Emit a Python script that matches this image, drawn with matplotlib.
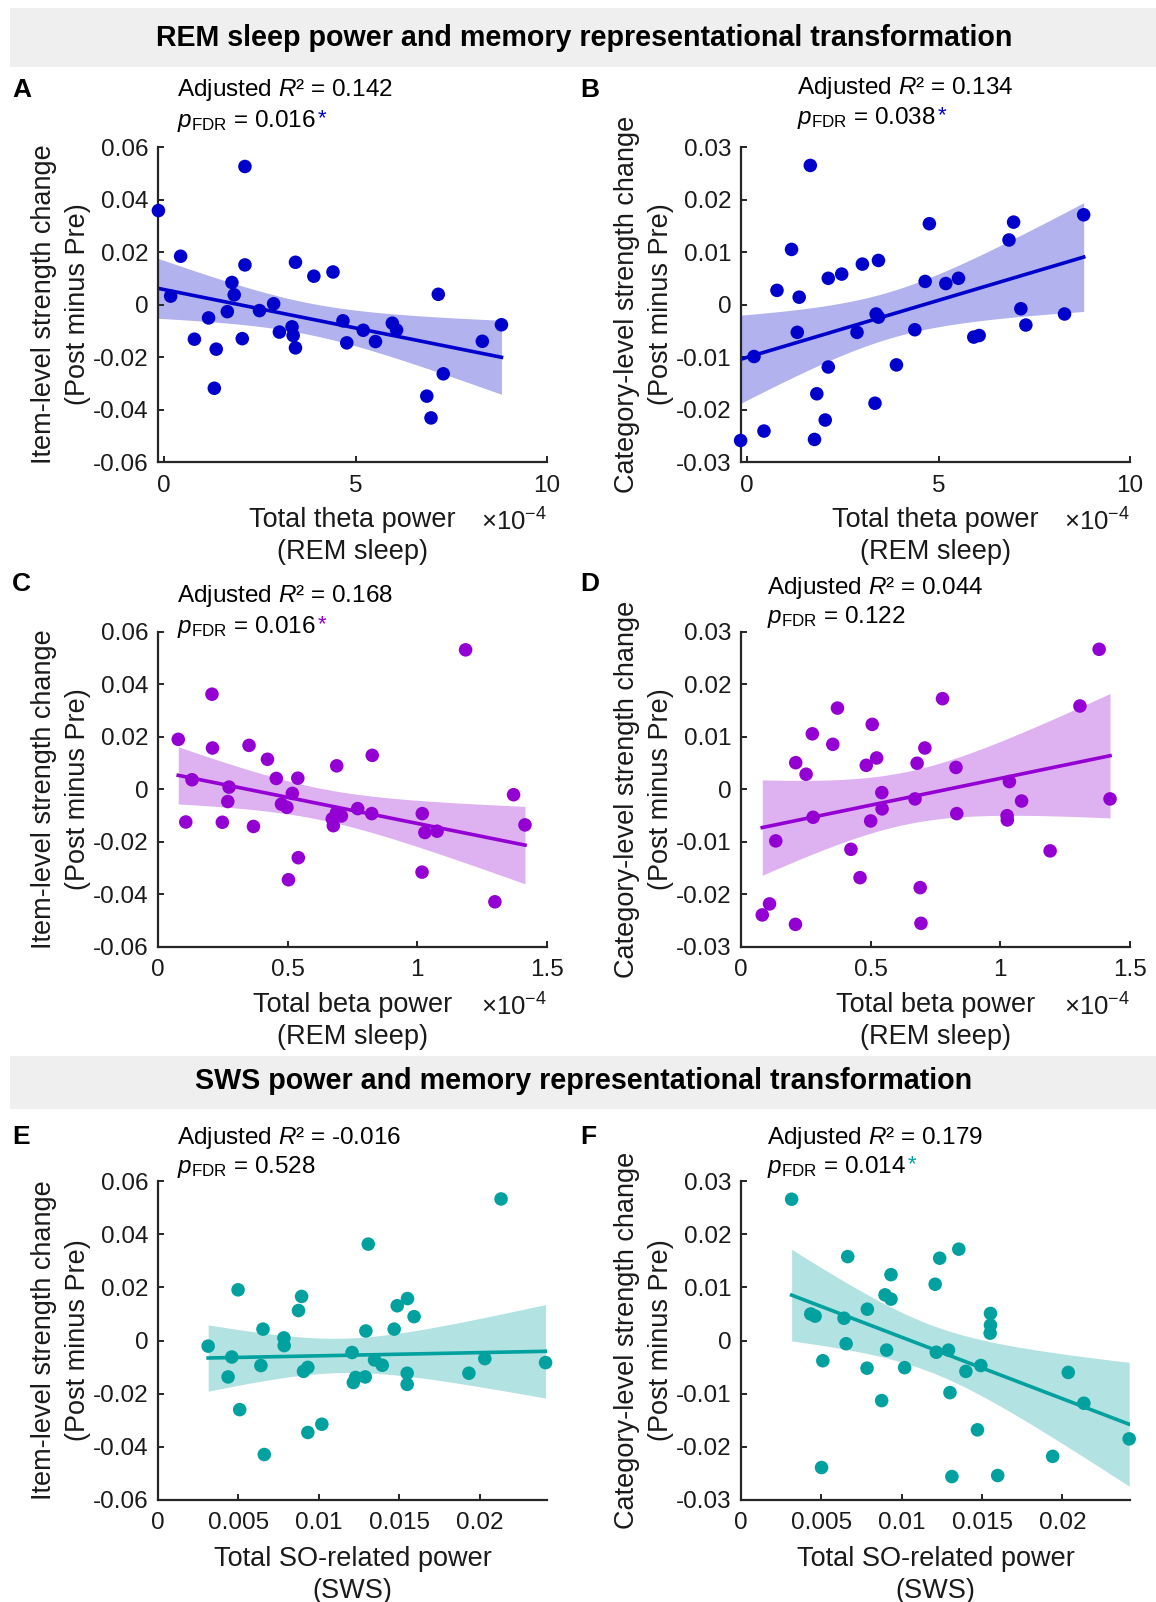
import matplotlib.pyplot as plt
import numpy as np
from matplotlib.patches import Rectangle
from matplotlib.ticker import FuncFormatter

plt.rcParams['font.family'] = ['Liberation Sans', 'DejaVu Sans']
plt.rcParams['mathtext.fontset'] = 'custom'
plt.rcParams['mathtext.rm'] = 'Liberation Sans'
plt.rcParams['mathtext.it'] = 'Liberation Sans:italic'
plt.rcParams['mathtext.bf'] = 'Liberation Sans:bold'

# panel A: theta power (x1e-4) vs item-level change
theta_A = [-0.15, 2.11, 0.17, 0.43, 0.79, 1.16, 1.36, 1.31, 1.65, 1.77, 1.83, 2.04,
           2.11, 2.49, 2.86, 3.01, 3.34, 3.37, 3.43, 3.43, 3.91, 4.41, 4.67, 4.77,
           5.20, 5.52, 5.96, 6.07, 6.86, 6.97, 7.16, 7.29, 8.31, 8.81]
item_A = [0.0358, 0.0526, 0.0032, 0.0184, -0.0132, -0.0051, -0.0170, -0.0319,
          -0.0027, 0.0084, 0.0037, -0.0130, 0.0151, -0.0023, 0.0003, -0.0105,
          -0.0085, -0.0118, -0.0165, 0.0161, 0.0108, 0.0124, -0.0062, -0.0146,
          -0.0098, -0.0141, -0.0071, -0.0097, -0.0349, -0.0432, 0.0039, -0.0264,
          -0.0140, -0.0077]

# panel B: theta power (x1e-4) vs category-level change
theta_B = [-0.17, 0.18, 0.44, 0.78, 1.16, 1.36, 1.31, 1.65, 1.82, 1.76, 2.04, 2.12,
           2.12, 2.47, 2.87, 3.01, 3.34, 3.37, 3.43, 3.43, 3.90, 4.38, 4.65, 4.76,
           5.19, 5.52, 5.92, 6.06, 6.84, 6.96, 7.15, 7.28, 8.29, 8.79]
category_B = [-0.0259, -0.0099, -0.0241, 0.0027, 0.0105, 0.0014, -0.0053, 0.0265,
              -0.0170, -0.0257, -0.0220, -0.0119, 0.0050, 0.0058, -0.0053, 0.0077,
              -0.0188, -0.0018, -0.0024, 0.0084, -0.0115, -0.0048, 0.0044, 0.0154,
              0.0040, 0.0050, -0.0062, -0.0059, 0.0123, 0.0157, -0.0008, -0.0039,
              -0.0018, 0.0171]

# panel C: beta power (x1e-4) vs item-level change
beta_C = [0.078, 0.107, 0.131, 0.208, 0.210, 0.248, 0.274, 0.269, 0.351, 0.368,
          0.422, 0.456, 0.476, 0.497, 0.503, 0.518, 0.539, 0.541, 0.672, 0.676,
          0.688, 0.707, 0.689, 0.770, 0.824, 0.826, 1.019, 1.018, 1.029, 1.076,
          1.186, 1.299, 1.371, 1.415]
item_C = [0.0191, -0.0124, 0.0037, 0.0363, 0.0158, -0.0125, 0.0009, -0.0046,
          0.0168, -0.0141, 0.0115, 0.0042, -0.0056, -0.0068, -0.0344, -0.0015,
          0.0043, -0.0260, -0.0112, -0.0138, -0.0089, -0.0101, 0.0090, -0.0073,
          -0.0092, 0.0130, -0.0092, -0.0315, -0.0164, -0.0159, 0.0532, -0.0428,
          -0.0020, -0.0135]

# panel D: beta power (x1e-4) vs category-level change
beta_D = [0.082, 0.110, 0.134, 0.211, 0.210, 0.251, 0.275, 0.278, 0.354, 0.372,
          0.424, 0.459, 0.483, 0.500, 0.506, 0.523, 0.543, 0.544, 0.671, 0.679,
          0.691, 0.694, 0.709, 0.777, 0.829, 0.832, 1.026, 1.027, 1.035, 1.082,
          1.192, 1.307, 1.381, 1.423]
category_D = [-0.0239, -0.0218, -0.0098, 0.0051, -0.0257, 0.0029, 0.0106, -0.0053,
              0.0086, 0.0155, -0.0114, -0.0168, 0.0046, -0.0060, 0.0124, 0.0060,
              -0.0006, -0.0037, -0.0018, 0.0050, -0.0187, -0.0255, 0.0079, 0.0173,
              0.0042, -0.0046, -0.0050, -0.0058, 0.0015, -0.0022, -0.0117, 0.0159,
              0.0267, -0.0018]

# panel E: SO-related power vs item-level change
so_E = [0.00312, 0.00436, 0.00459, 0.00498, 0.00508, 0.00640, 0.00653, 0.00661,
        0.00783, 0.00785, 0.00874, 0.00893, 0.00905, 0.00932, 0.00932, 0.01019,
        0.01207, 0.01215, 0.01229, 0.01289, 0.01293, 0.01308, 0.01347, 0.01395,
        0.01469, 0.01488, 0.01552, 0.01550, 0.01550, 0.01593, 0.01934, 0.02033,
        0.02134, 0.02411]
item_E = [-0.0021, -0.0137, -0.0062, 0.0191, -0.0260, -0.0094, 0.0043, -0.0429,
          0.0010, -0.0019, 0.0113, 0.0166, -0.0116, -0.0101, -0.0346, -0.0315,
          -0.0045, -0.0158, -0.0139, -0.0137, 0.0036, 0.0363, -0.0073, -0.0093,
          0.0043, 0.0131, 0.0158, -0.0123, -0.0165, 0.0090, -0.0123, -0.0068,
          0.0533, -0.0083]

# panel F: SO-related power vs category-level change
so_F = [0.00315, 0.00434, 0.00461, 0.00501, 0.00509, 0.00641, 0.00654, 0.00664,
        0.00786, 0.00784, 0.00875, 0.00896, 0.00906, 0.00933, 0.00933, 0.01018,
        0.01208, 0.01215, 0.01236, 0.01291, 0.01300, 0.01312, 0.01355, 0.01399,
        0.01471, 0.01492, 0.01552, 0.01552, 0.01550, 0.01597, 0.01939, 0.02036,
        0.02133, 0.02415]
category_F = [0.0266, 0.0050, 0.0046, -0.0239, -0.0038, 0.0042, -0.0006, 0.0158,
              0.0059, -0.0052, -0.0113, 0.0086, -0.0018, 0.0124, 0.0078, -0.0051,
              0.0106, -0.0022, 0.0155, -0.0018, -0.0098, -0.0256, 0.0172, -0.0058,
              -0.0168, -0.0047, 0.0051, 0.0029, 0.0014, -0.0254, -0.0218, -0.0060,
              -0.0118, -0.0185]

r2_text = ["0.142", "0.134", "0.168", "0.044", "-0.016", "0.179"]
p_text = ["0.016", "0.038", "0.016", "0.122", "0.528", "0.014"]
significant = [True, True, True, False, False, True]

BLUE = "#0000CD"
PURPLE = "#9400D3"
TEAL = "#00A19E"
AXIS_COLOR = "#262626"
TEXT_COLOR = "#1a1a1a"


def matlab_fmt(v, pos):
    if abs(v) < 1e-12:
        return "0"
    return f"{round(v, 6):g}"


def bisquare(u):
    return np.where(np.abs(u) < 1, (1 - u ** 2) ** 2, 0.0)


def robust_band(x, y, tune=4.685, t_crit=2.0369):
    # bisquare robust fit (robustfit style) and confidence band of the fitted mean
    x = np.asarray(x, dtype=float)
    y = np.asarray(y, dtype=float)
    X = np.column_stack([np.ones_like(x), x])
    n, p = X.shape
    b = np.linalg.lstsq(X, y, rcond=None)[0]
    ols_s = np.sqrt(np.sum((y - X @ b) ** 2) / (n - p))
    h = np.diag(X @ np.linalg.inv(X.T @ X) @ X.T)
    adj = 1.0 / np.sqrt(1.0 - np.clip(h, 0, 0.9999))
    w = np.ones(n)
    s = ols_s
    for _ in range(200):
        radj = (y - X @ b) * adj
        rs = np.sort(np.abs(radj))
        s = np.median(rs[p - 1:]) / 0.6745
        w = bisquare(radj / (tune * s))
        Xw = X * w[:, None]
        b_new = np.linalg.solve(X.T @ Xw, Xw.T @ y)
        done = np.max(np.abs(b_new - b)) < 1e-13
        b = b_new
        if done:
            break

    radj = (y - X @ b) * adj
    st = s * tune
    u = radj / st
    phi = u * bisquare(u)
    d = 1e-4
    dphi = ((u + d) * bisquare(u + d) - (u - d) * bisquare(u - d)) / (2 * d)
    m1 = np.mean(dphi)
    m2 = np.sum((1 - h) * phi ** 2) / (n - p)
    K = 1 + (p / n) * (1 - m1) / m1
    robust_s = K * np.sqrt(m2) * st / m1
    sigma = max(robust_s, np.sqrt((ols_s ** 2 * p ** 2 + robust_s ** 2 * n) / (p ** 2 + n)))
    w = bisquare(radj / st)
    cov = sigma ** 2 * np.linalg.inv(X.T @ (X * w[:, None]))

    xs = np.linspace(x.min(), x.max(), 200)
    Xs = np.column_stack([np.ones_like(xs), xs])
    se = np.sqrt(np.einsum("ij,jk,ik->i", Xs, cov, Xs))
    fit = Xs @ b
    return xs, fit, fit - t_crit * se, fit + t_crit * se


fig = plt.figure(figsize=(11.56, 16.02), dpi=100)

# section header bands
for y0, h, ty, label in [(0.9582, 0.0368, 0.9763,
                          "REM sleep power and memory representational transformation"),
                         (0.3077, 0.0331, 0.3252,
                          "SWS power and memory representational transformation")]:
    fig.patches.append(Rectangle((0.0087, y0), 0.9913, h, transform=fig.transFigure,
                                 facecolor="#efefef", edgecolor="none", zorder=0))
    fig.text(0.505, ty, label, ha="center", va="center", fontsize=20.6,
             fontweight="bold")

panels = [
    dict(x=theta_A, y=item_A, color=BLUE, pos=[0.1367, 0.7116, 0.3365, 0.1966],
         xlim=(-0.16, 10), xticks=[0, 5, 10], ylim=(-0.06, 0.06),
         xlabel="Total theta power\n(REM sleep)", scale=True,
         ylabel="Item-level strength change\n(Post minus Pre)",
         ann_x=0.049, ann_y=(1.181, 1.083), letter="A", lpos=(0.0104, 0.9438)),
    dict(x=theta_B, y=category_B, color=BLUE, pos=[0.641, 0.7116, 0.3365, 0.1966],
         xlim=(-0.16, 10), xticks=[0, 5, 10], ylim=(-0.03, 0.03),
         xlabel="Total theta power\n(REM sleep)", scale=True,
         ylabel="Category-level strength change\n(Post minus Pre)",
         ann_x=0.144, ann_y=(1.187, 1.092), letter="B", lpos=(0.502, 0.9438)),
    dict(x=beta_C, y=item_C, color=PURPLE, pos=[0.1367, 0.4089, 0.3365, 0.1966],
         xlim=(0, 1.5), xticks=[0, 0.5, 1, 1.5], ylim=(-0.06, 0.06),
         xlabel="Total beta power\n(REM sleep)", scale=True,
         ylabel="Item-level strength change\n(Post minus Pre)",
         ann_x=0.049, ann_y=(1.114, 1.016), letter="C", lpos=(0.0104, 0.6355)),
    dict(x=beta_D, y=category_D, color=PURPLE, pos=[0.641, 0.4089, 0.3365, 0.1966],
         xlim=(0, 1.5), xticks=[0, 0.5, 1, 1.5], ylim=(-0.03, 0.03),
         xlabel="Total beta power\n(REM sleep)", scale=True,
         ylabel="Category-level strength change\n(Post minus Pre)",
         ann_x=0.067, ann_y=(1.14, 1.048), letter="D", lpos=(0.502, 0.6355)),
    dict(x=so_E, y=item_E, color=TEAL, pos=[0.1367, 0.0637, 0.3365, 0.199],
         xlim=(0, 0.0242), xticks=[0, 0.005, 0.01, 0.015, 0.02], ylim=(-0.06, 0.06),
         xlabel="Total SO-related power\n(SWS)", scale=False,
         ylabel="Item-level strength change\n(Post minus Pre)",
         ann_x=0.049, ann_y=(1.135, 1.044), letter="E", lpos=(0.0104, 0.290)),
    dict(x=so_F, y=category_F, color=TEAL, pos=[0.641, 0.0637, 0.3365, 0.199],
         xlim=(0, 0.0242), xticks=[0, 0.005, 0.01, 0.015, 0.02], ylim=(-0.03, 0.03),
         xlabel="Total SO-related power\n(SWS)", scale=False,
         ylabel="Category-level strength change\n(Post minus Pre)",
         ann_x=0.067, ann_y=(1.135, 1.044), letter="F", lpos=(0.502, 0.290)),
]

for i, p in enumerate(panels):
    ax = fig.add_axes(p["pos"])
    xs, fit, lo, hi = robust_band(p["x"], p["y"])
    ax.fill_between(xs, lo, hi, color=p["color"], alpha=0.3, linewidth=0, zorder=1)
    ax.plot(xs, fit, color=p["color"], linewidth=2.6, zorder=2)
    ax.scatter(p["x"], p["y"], s=95, color=p["color"], edgecolors="none", zorder=3,
               clip_on=False)

    ax.set_xlim(p["xlim"])
    ax.set_ylim(p["ylim"])
    ax.set_xticks(p["xticks"])
    ax.set_yticks(np.linspace(p["ylim"][0], p["ylim"][1], 7))
    ax.xaxis.set_major_formatter(FuncFormatter(matlab_fmt))
    ax.yaxis.set_major_formatter(FuncFormatter(matlab_fmt))

    for side in ["top", "right"]:
        ax.spines[side].set_visible(False)
    for side in ["left", "bottom"]:
        ax.spines[side].set_linewidth(1.6)
        ax.spines[side].set_color(AXIS_COLOR)
    ax.tick_params(direction="in", length=4, width=1.4, color=AXIS_COLOR,
                   labelsize=17.5, labelcolor=TEXT_COLOR)
    ax.tick_params(axis="x", pad=9)
    ax.tick_params(axis="y", pad=7)

    ax.text(0.5, -0.235, p["xlabel"], transform=ax.transAxes, ha="center",
            va="center", fontsize=19.5, linespacing=1.3, color=TEXT_COLOR)
    if p["scale"]:
        ax.text(1.0, -0.19, "×10$^{-4}$", transform=ax.transAxes, ha="right",
                va="center", fontsize=18.5, color=TEXT_COLOR)
    ax.text(-0.25, 0.5, p["ylabel"], transform=ax.transAxes, ha="center",
            va="center", rotation=90, fontsize=19.5, linespacing=1.4,
            color=TEXT_COLOR)

    ax.text(p["ann_x"], p["ann_y"][0], "Adjusted $R$² = " + r2_text[i],
            transform=ax.transAxes, ha="left", va="center", fontsize=17.5)
    ptxt = ax.text(p["ann_x"], p["ann_y"][1], r"$p_{\mathrm{FDR}}$ = " + p_text[i],
                   transform=ax.transAxes, ha="left", va="center", fontsize=17.5)
    if significant[i]:
        ax.annotate("*", xy=(1.0, 1.0), xycoords=ptxt, xytext=(1, 0),
                    textcoords="offset points", ha="left", va="top",
                    fontsize=16, color=p["color"])

    fig.text(p["lpos"][0], p["lpos"][1], p["letter"], ha="left", va="center",
             fontsize=19, fontweight="bold")

fig.savefig("out.png", dpi=100)
plt.close(fig)
